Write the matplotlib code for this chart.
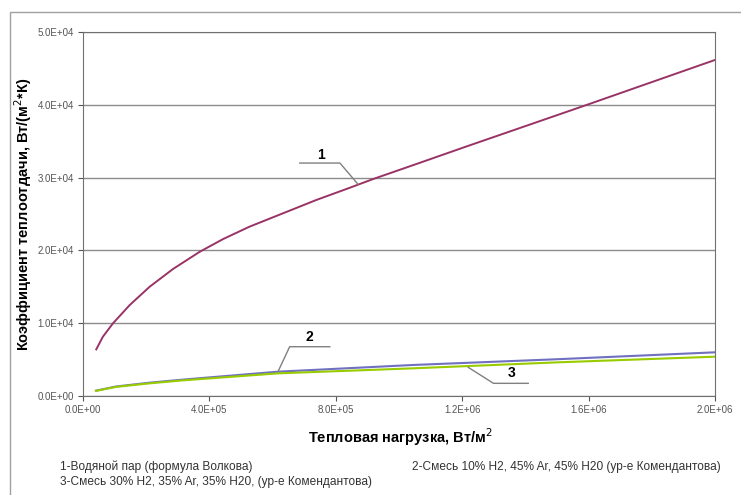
import matplotlib
matplotlib.use("Agg")
import matplotlib.pyplot as plt
from matplotlib.patches import Rectangle
from matplotlib.ticker import FixedLocator, FuncFormatter

plt.rcParams['font.family'] = ['Liberation Sans', 'DejaVu Sans']

# Кривая 1 - водяной пар (формула Волкова)
q1 = [42e3, 63e3, 95e3, 148e3, 211e3, 285e3, 369e3, 443e3, 527e3, 633e3, 738e3,
      844e3, 918e3, 1044e3, 1215e3, 1595e3, 2000e3]
h1 = [6410, 8150, 9990, 12500, 15010, 17450, 19800, 21550, 23260, 25100, 26920,
      28600, 29800, 31700, 34300, 40000, 46160]

# Кривые 2 и 3 - смеси (ур-е Комендантова)
q23 = [41e3, 104e3, 211e3, 316e3, 617e3, 1044e3, 1500e3, 2000e3]
h2 = [730, 1300, 1830, 2250, 3340, 4260, 5050, 6000]
h3 = [700, 1250, 1740, 2150, 3110, 3800, 4620, 5400]

xticks = [0, 4e5, 8e5, 1.2e6, 1.6e6, 2e6]
yticks = [0, 1e4, 2e4, 3e4, 4e4, 5e4]

legend1 = "1-Водяной пар (формула Волкова)"
legend2 = "2-Смесь 10% Н2, 45% Ar, 45% Н20 (ур-е Комендантова)"
legend3 = "3-Смесь 30% Н2, 35% Ar, 35% Н20, (ур-е Комендантова)"

# выноски (в единицах данных)
lead1 = ([686e3, 813e3, 870e3], [32000, 32000, 29100])
lead2 = ([781e3, 654e3, 617e3], [6770, 6770, 3340])
lead3 = ([1219e3, 1299e3, 1409e3], [3940, 1740, 1740])

fig = plt.figure(figsize=(7.41, 4.95), dpi=100)
fig.patches.append(Rectangle((10 / 741, -0.1), 1.2, 1 - 12 / 495 + 0.1,
                             transform=fig.transFigure, fill=False,
                             edgecolor='#a0a0a0', lw=1))
ax = fig.add_axes([83 / 741, 1 - 396 / 495, 632 / 741, 364 / 495])

ax.plot(q1, h1, color='#993366', lw=1.4)
ax.plot(q23, h2, color='#7070c0', lw=1.5)
ax.plot(q23, h3, color='#99cc00', lw=1.5)

for lx, ly in (lead1, lead2, lead3):
    ax.plot(lx, ly, color='#808080', lw=1)
ax.text(753e3, 33100, "1", fontsize=10, fontweight='bold', ha='center', va='center')
ax.text(717e3, 8060, "2", fontsize=10, fontweight='bold', ha='center', va='center')
ax.text(1357e3, 3120, "3", fontsize=10, fontweight='bold', ha='center', va='center')

ax.set_xlim(0, 2e6)
ax.set_ylim(0, 5e4)
ax.xaxis.set_major_locator(FixedLocator(xticks))
ax.yaxis.set_major_locator(FixedLocator(yticks))
fmt = FuncFormatter(lambda v, p: "%.1E" % v)
ax.xaxis.set_major_formatter(fmt)
ax.yaxis.set_major_formatter(fmt)
ax.tick_params(labelsize=7, labelcolor='#555555', color='#555555',
               direction='out', length=3.6, pad=3)
ax.grid(axis='y', color='#8c8c8c', lw=1)
ax.set_axisbelow(True)
for s in ax.spines.values():
    s.set_color('#707070')

ax.set_ylabel("Коэффициент теплоотдачи, Вт/(м$^2$*К)", fontsize=10.5, fontweight='bold')
ax.yaxis.set_label_coords(-0.077, 0.5)
fig.text(400 / 741, 1 - 437 / 495, "Тепловая нагрузка, Вт/м$^2$", fontsize=10.5,
         fontweight='bold', ha='center', va='center')

fig.text(60 / 741, 1 - 467 / 495, legend1, fontsize=8.6, color='#333333', va='center')
fig.text(721 / 741, 1 - 467 / 495, legend2, fontsize=8.6, color='#333333', va='center', ha='right')
fig.text(60 / 741, 1 - 482 / 495, legend3, fontsize=8.6, color='#333333', va='center')

fig.savefig("out.png", dpi=100)
